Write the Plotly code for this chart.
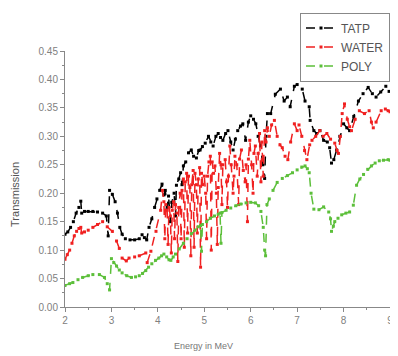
import plotly.graph_objects as go

# ---------------- data ----------------
tatp_x = [2.00, 2.06, 2.12, 2.18, 2.24, 2.30, 2.34, 2.36, 2.42, 2.50, 2.60, 2.70, 2.81, 2.89, 2.93,
          2.96, 3.02, 3.08, 3.13, 3.18, 3.23, 3.30, 3.40, 3.50, 3.60, 3.66, 3.71, 3.76, 3.81, 3.87,
          3.93, 3.98, 4.04, 4.09, 4.13, 4.16, 4.20, 4.23, 4.27, 4.30, 4.35, 4.38, 4.40, 4.45, 4.49,
          4.52, 4.55, 4.60, 4.66, 4.72, 4.77, 4.83, 4.88, 4.91, 4.96, 5.02, 5.09, 5.14, 5.19, 5.25,
          5.30, 5.35, 5.40, 5.46, 5.51, 5.57, 5.62, 5.67, 5.72, 5.78, 5.83, 5.89, 5.95, 6.00, 6.06,
          6.11, 6.16, 6.21, 6.26, 6.30, 6.33, 6.36, 6.43, 6.53, 6.64, 6.72, 6.79, 6.85, 6.94, 7.00,
          7.11, 7.17, 7.26, 7.28, 7.36, 7.42, 7.49, 7.57, 7.65, 7.70, 7.74, 7.79, 7.85, 7.92, 8.00,
          8.07, 8.13, 8.22, 8.32, 8.42, 8.53, 8.62, 8.70, 8.80, 8.91, 8.98]
tatp_y = [0.128, 0.132, 0.140, 0.150, 0.165, 0.175, 0.186, 0.165, 0.168, 0.168, 0.168, 0.167, 0.165, 0.160, 0.125,
          0.205, 0.198, 0.185, 0.165, 0.140, 0.128, 0.120, 0.118, 0.118, 0.120, 0.127, 0.122, 0.118, 0.140, 0.155,
          0.175, 0.190, 0.205, 0.216, 0.197, 0.205, 0.175, 0.195, 0.150, 0.184, 0.200, 0.160, 0.214, 0.225, 0.236,
          0.215, 0.248, 0.255, 0.271, 0.276, 0.265, 0.262, 0.275, 0.276, 0.282, 0.288, 0.300, 0.290, 0.283, 0.300,
          0.305, 0.298, 0.293, 0.305, 0.310, 0.290, 0.276, 0.295, 0.310, 0.318, 0.322, 0.293, 0.325, 0.336, 0.330,
          0.322, 0.300, 0.283, 0.250, 0.226, 0.300, 0.340, 0.340, 0.374, 0.383, 0.362, 0.369, 0.352, 0.388, 0.391,
          0.383, 0.362, 0.352, 0.328, 0.310, 0.305, 0.310, 0.293, 0.290, 0.280, 0.253, 0.259, 0.276, 0.300, 0.322,
          0.315, 0.310, 0.335, 0.362, 0.375, 0.386, 0.375, 0.369, 0.378, 0.388, 0.379]

water_x = [2.00, 2.05, 2.10, 2.15, 2.20, 2.25, 2.30, 2.34, 2.36, 2.42, 2.50, 2.60, 2.70, 2.81, 2.91,
           3.02, 3.11, 3.17, 3.23, 3.32, 3.38, 3.50, 3.60, 3.74, 3.77, 3.85, 3.96, 4.06, 4.10, 4.13,
           4.15, 4.17, 4.20, 4.22, 4.24, 4.27, 4.29, 4.31, 4.34, 4.36, 4.38, 4.41, 4.43, 4.45, 4.48,
           4.50, 4.52, 4.55, 4.57, 4.59, 4.62, 4.64, 4.66, 4.69, 4.71, 4.73, 4.76, 4.78, 4.80, 4.83,
           4.85, 4.87, 4.90, 4.92, 4.94, 4.97, 5.00, 5.03, 5.05, 5.07, 5.10, 5.13, 5.15, 5.17, 5.20,
           5.23, 5.26, 5.28, 5.30, 5.33, 5.36, 5.38, 5.40, 5.45, 5.48, 5.50, 5.52, 5.55, 5.58, 5.62,
           5.64, 5.66, 5.70, 5.74, 5.76, 5.80, 5.84, 5.88, 5.90, 5.93, 5.95, 5.98, 6.02, 6.05, 6.07,
           6.10, 6.14, 6.16, 6.19, 6.22, 6.24, 6.27, 6.30, 6.33, 6.36, 6.40, 6.45, 6.51, 6.57, 6.63,
           6.68, 6.74, 6.80, 6.86, 6.94, 7.00, 7.04, 7.10, 7.16, 7.21, 7.27, 7.32, 7.40, 7.49, 7.56,
           7.64, 7.72, 7.81, 7.86, 7.89, 7.93, 7.97, 8.02, 8.08, 8.13, 8.17, 8.25, 8.34, 8.45, 8.55,
           8.60, 8.64, 8.70, 8.81, 8.90, 8.96, 9.00]
water_y = [0.084, 0.092, 0.100, 0.112, 0.125, 0.133, 0.138, 0.140, 0.130, 0.132, 0.135, 0.140, 0.145, 0.150, 0.141,
           0.133, 0.116, 0.103, 0.086, 0.081, 0.086, 0.088, 0.090, 0.095, 0.078, 0.098, 0.133, 0.170, 0.205, 0.185,
           0.120, 0.180, 0.170, 0.110, 0.175, 0.160, 0.095, 0.170, 0.185, 0.120, 0.180, 0.165, 0.080, 0.175, 0.200,
           0.120, 0.205, 0.225, 0.105, 0.220, 0.235, 0.130, 0.230, 0.210, 0.090, 0.215, 0.240, 0.105, 0.235, 0.215,
           0.130, 0.225, 0.245, 0.070, 0.235, 0.215, 0.230, 0.200, 0.120, 0.230, 0.255, 0.265, 0.100, 0.255, 0.235,
           0.248, 0.200, 0.110, 0.210, 0.270, 0.250, 0.180, 0.250, 0.259, 0.220, 0.175, 0.230, 0.283, 0.250, 0.200,
           0.230, 0.265, 0.250, 0.180, 0.260, 0.276, 0.240, 0.220, 0.250, 0.150, 0.260, 0.293, 0.250, 0.200, 0.270,
           0.283, 0.230, 0.270, 0.305, 0.220, 0.290, 0.230, 0.310, 0.290, 0.315, 0.300, 0.320, 0.328, 0.300, 0.285,
           0.280, 0.265, 0.259, 0.290, 0.322, 0.310, 0.320, 0.300, 0.275, 0.259, 0.285, 0.293, 0.300, 0.310, 0.300,
           0.305, 0.295, 0.288, 0.275, 0.270, 0.300, 0.340, 0.357, 0.330, 0.317, 0.310, 0.330, 0.345, 0.340, 0.345,
           0.325, 0.315, 0.325, 0.345, 0.348, 0.345, 0.343]

poly_x = [2.00, 2.10, 2.17, 2.28, 2.38, 2.50, 2.60, 2.74, 2.85, 2.91, 2.96, 3.00, 3.05, 3.11, 3.17,
          3.23, 3.33, 3.43, 3.52, 3.60, 3.67, 3.74, 3.80, 3.87, 3.95, 4.02, 4.08, 4.13, 4.19, 4.24,
          4.28, 4.33, 4.38, 4.46, 4.55, 4.63, 4.72, 4.80, 4.87, 4.92, 4.94, 4.96, 5.05, 5.13, 5.22,
          5.30, 5.34, 5.36, 5.38, 5.47, 5.57, 5.68, 5.79, 5.90, 6.00, 6.10, 6.17, 6.22, 6.27, 6.30,
          6.32, 6.35, 6.40, 6.48, 6.57, 6.68, 6.79, 6.90, 7.00, 7.10, 7.17, 7.22, 7.26, 7.30, 7.36,
          7.47, 7.57, 7.68, 7.72, 7.74, 7.78, 7.81, 7.88, 7.96, 8.05, 8.13, 8.21, 8.28, 8.35, 8.43,
          8.52, 8.60, 8.68, 8.77, 8.86, 8.96, 9.00]
poly_y = [0.038, 0.041, 0.043, 0.048, 0.052, 0.055, 0.057, 0.057, 0.052, 0.041, 0.030, 0.085, 0.078, 0.072, 0.065,
          0.060, 0.055, 0.052, 0.053, 0.055, 0.059, 0.064, 0.070, 0.076, 0.082, 0.086, 0.090, 0.093, 0.088, 0.083,
          0.082, 0.088, 0.093, 0.102, 0.112, 0.120, 0.129, 0.135, 0.141, 0.143, 0.098, 0.145, 0.150, 0.156, 0.160,
          0.163, 0.165, 0.112, 0.166, 0.170, 0.174, 0.178, 0.181, 0.183, 0.184, 0.183, 0.178, 0.168, 0.140, 0.100,
          0.090, 0.180, 0.190, 0.205, 0.219, 0.226, 0.231, 0.236, 0.241, 0.246, 0.248, 0.243, 0.236, 0.200, 0.172,
          0.171, 0.176, 0.167, 0.155, 0.133, 0.142, 0.150, 0.156, 0.162, 0.165, 0.167, 0.179, 0.214, 0.225, 0.233,
          0.242, 0.248, 0.253, 0.257, 0.258, 0.259, 0.258]

series_names = ["TATP", "WATER", "POLY"]
series_colors = ["#000000", "#f02020", "#5cbf3a"]

y_tick_vals = [0.00, 0.05, 0.10, 0.15, 0.20, 0.25, 0.30, 0.35, 0.40, 0.45]
x_tick_vals = [2, 3, 4, 5, 6, 7, 8, 9]

# ---------------- figure ----------------
fig = go.Figure()
for name, xs, ys, col in zip(series_names,
                             [tatp_x, water_x, poly_x],
                             [tatp_y, water_y, poly_y],
                             series_colors):
    fig.add_trace(go.Scatter(
        x=xs, y=ys, name=name, mode="lines+markers",
        line=dict(color=col, width=1.5, dash="dash"),
        marker=dict(color=col, size=3, symbol="square"),
    ))

axis_font = dict(family="Liberation Sans, Arial, sans-serif", size=10, color="#808080")

# the page adds an 8 px body margin, so the figure is drawn 8 px smaller
fig.update_layout(
    width=390, height=348,
    margin=dict(l=57, r=5, t=38, b=49),
    paper_bgcolor="white", plot_bgcolor="white",
    showlegend=True,
    legend=dict(
        x=1.0, xanchor="right", y=1.15, yanchor="top",
        bordercolor="#888888", borderwidth=1, bgcolor="white",
        font=dict(family="Liberation Sans, Arial, sans-serif", size=12, color="#555555"),
        tracegroupgap=0, itemwidth=30,
    ),
    xaxis=dict(
        range=[2, 9], tickvals=x_tick_vals, ticktext=[str(v) for v in x_tick_vals],
        showgrid=False, zeroline=False, showline=True, linecolor="#888888", linewidth=1,
        ticks="outside", ticklen=4, tickcolor="#888888",
        minor=dict(dtick=0.5, ticks="outside", ticklen=2, tickcolor="#888888", showgrid=False),
        tickfont=axis_font,
    ),
    yaxis=dict(
        range=[0, 0.45], tickvals=y_tick_vals, ticktext=[f"{v:.2f}" for v in y_tick_vals],
        showgrid=False, zeroline=False, showline=True, linecolor="#888888", linewidth=1,
        ticks="outside", ticklen=4, tickcolor="#888888",
        minor=dict(dtick=0.025, ticks="outside", ticklen=2, tickcolor="#888888", showgrid=False),
        tickfont=axis_font,
    ),
    annotations=[
        dict(text="Energy in MeV", xref="paper", yref="paper", x=0.427, y=-0.153,
             xanchor="center", yanchor="middle", showarrow=False,
             font=dict(family="Liberation Sans, Arial, sans-serif", size=9, color="#777777")),
        dict(text="Transmission", xref="paper", yref="paper", x=-0.152, y=0.44,
             xanchor="center", yanchor="middle", showarrow=False, textangle=-90,
             font=dict(family="Liberation Sans, Arial, sans-serif", size=11, color="#555555")),
    ],
)

fig.write_html("out.html")
